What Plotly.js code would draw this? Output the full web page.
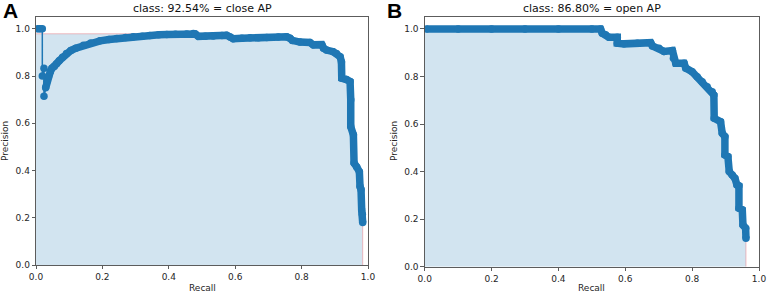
<!DOCTYPE html>
<html>
<head>
<meta charset="utf-8">
<script src="https://cdn.plot.ly/plotly-3.0.1.min.js"></script>
<style>
html,body{margin:0;padding:0;background:#fff;}
#chart{width:768px;height:295px;}
</style>
</head>
<body>
<div id="chart"></div>
<script>
// ---- Panel A: close ----
const recallA = [0.005,0.010,0.014,0.019,0.019,0.024,0.024,0.029,0.033,0.038,0.043,0.048,0.055,0.062,0.070,0.080,0.092,0.105,0.120,0.143,0.165,0.193,0.220,0.243,0.270,0.293,0.320,0.343,0.370,0.394,0.420,0.454,0.474,0.480,0.489,0.510,0.534,0.560,0.574,0.585,0.594,0.620,0.645,0.670,0.695,0.730,0.755,0.765,0.772,0.795,0.825,0.835,0.861,0.866,0.875,0.895,0.905,0.916,0.920,0.921,0.935,0.946,0.948,0.948,0.956,0.958,0.966,0.974,0.976,0.979,0.981,0.983,0.984];
const precisionA = [1.0,1.0,1.0,1.0,0.800,0.833,0.714,0.750,0.778,0.800,0.818,0.833,0.840,0.852,0.865,0.880,0.895,0.908,0.918,0.930,0.940,0.949,0.955,0.959,0.963,0.966,0.969,0.972,0.975,0.976,0.977,0.978,0.980,0.978,0.968,0.968,0.970,0.972,0.973,0.965,0.958,0.960,0.962,0.962,0.963,0.965,0.966,0.960,0.951,0.944,0.942,0.932,0.933,0.918,0.910,0.903,0.895,0.882,0.860,0.791,0.785,0.777,0.700,0.586,0.551,0.432,0.415,0.395,0.332,0.320,0.233,0.215,0.180];
const envRecallA = [0.0,0.474,0.480,0.755,0.765,0.772,0.795,0.825,0.835,0.861,0.866,0.875,0.895,0.905,0.916,0.920,0.921,0.935,0.946,0.948,0.956,0.958,0.966,0.974,0.976,0.979,0.981,0.983,0.984,0.984];
const envPrecisionA = [0.979,0.979,0.966,0.966,0.960,0.951,0.944,0.942,0.933,0.933,0.918,0.910,0.903,0.895,0.882,0.860,0.791,0.785,0.777,0.586,0.551,0.432,0.415,0.395,0.332,0.320,0.233,0.215,0.180,0.0];

// ---- Panel B: open ----
const recallB = [0.005,0.100,0.200,0.300,0.400,0.500,0.526,0.531,0.541,0.551,0.576,0.576,0.596,0.636,0.676,0.681,0.701,0.716,0.741,0.744,0.751,0.776,0.781,0.800,0.815,0.830,0.845,0.860,0.865,0.866,0.885,0.890,0.898,0.898,0.907,0.911,0.920,0.928,0.934,0.940,0.940,0.950,0.952,0.960,0.961];
const precisionB = [1.0,1.0,1.0,1.0,1.0,1.0,1.0,0.982,0.975,0.965,0.965,0.940,0.937,0.940,0.942,0.928,0.919,0.905,0.909,0.877,0.856,0.856,0.835,0.820,0.799,0.778,0.757,0.736,0.722,0.624,0.610,0.561,0.547,0.470,0.463,0.400,0.386,0.372,0.344,0.340,0.246,0.239,0.175,0.162,0.120];

const titles = ['class: 92.54% = close AP', 'class: 86.80% = open AP'];
const panelLabels = ['A', 'B'];
const tickVals = [0, 0.2, 0.4, 0.6, 0.8, 1.0];
const tickText = ['0.0', '0.2', '0.4', '0.6', '0.8', '1.0'];

const BLUE = '#1f77b4';
const FILL = 'rgba(31,119,180,0.2)';
const PINK = 'rgba(235,110,120,0.45)';

const envRecallB = [0].concat(recallB, [recallB[recallB.length - 1]]);
const envPrecisionB = [precisionB[0]].concat(precisionB, [0]);

function panelTraces(rec, prec, envR, envP, bandStart, xa, ya) {
  return [
    {x: envR, y: envP, xaxis: xa, yaxis: ya, type: 'scatter', mode: 'lines', fill: 'tozeroy',
     fillcolor: FILL, line: {width: 0, color: FILL}, hoverinfo: 'skip', showlegend: false},
    {x: envR, y: envP, xaxis: xa, yaxis: ya, type: 'scatter', mode: 'lines',
     line: {width: 1, color: PINK}, hoverinfo: 'skip', showlegend: false},
    {x: rec.slice(bandStart), y: prec.slice(bandStart), xaxis: xa, yaxis: ya, type: 'scatter', mode: 'lines',
     line: {width: 7.5, color: BLUE}, showlegend: false},
    {x: rec, y: prec, xaxis: xa, yaxis: ya, type: 'scatter', mode: 'lines+markers',
     line: {width: 1.5, color: BLUE}, marker: {size: 7.5, color: BLUE}, showlegend: false}
  ];
}

const data = [].concat(
  panelTraces(recallA, precisionA, envRecallA, envPrecisionA, 7, 'x', 'y'),
  panelTraces(recallB, precisionB, envRecallB, envPrecisionB, 0, 'x2', 'y2')
);

const W = 768, H = 295;
const axFont = {family: 'DejaVu Sans, sans-serif', size: 9, color: '#262626'};
function xAxis(domain) {
  return {domain: domain, range: [0, 1], tickvals: tickVals, ticktext: tickText,
    ticks: 'outside', ticklen: 3.5, tickwidth: 0.8, tickcolor: '#333',
    showline: true, mirror: true, linecolor: '#333', linewidth: 0.8,
    showgrid: false, zeroline: false, tickfont: axFont, fixedrange: true};
}
function yAxis(domain, anchor) {
  return {domain: domain, range: [0, 1.05], tickvals: tickVals, ticktext: tickText, anchor: anchor,
    ticks: 'outside', ticklen: 3.5, tickwidth: 0.8, tickcolor: '#333',
    showline: true, mirror: true, linecolor: '#333', linewidth: 0.8,
    showgrid: false, zeroline: false, tickfont: axFont, fixedrange: true};
}

const leftX = [36 / W, 368 / W];
const rightX = [424.7 / W, 759 / W];
const leftY = [1 - 265 / H, 1 - 17 / H];
const rightY = [1 - 266.7 / H, 1 - 17 / H];

const centers = [(leftX[0] + leftX[1]) / 2, (rightX[0] + rightX[1]) / 2];
const annotations = [];
titles.forEach((t, i) => {
  annotations.push({text: t, xref: 'paper', yref: 'paper', x: centers[i], y: 1 - 8 / H,
    xanchor: 'center', yanchor: 'middle', showarrow: false,
    font: {family: 'DejaVu Sans, sans-serif', size: 11, color: '#111'}});
  annotations.push({text: 'Recall', xref: 'paper', yref: 'paper', x: centers[i], y: 1 - 287.5 / H,
    xanchor: 'center', yanchor: 'middle', showarrow: false,
    font: {family: 'DejaVu Sans, sans-serif', size: 9, color: '#262626'}});
});
const precX = [5 / W, 394 / W];
precX.forEach((px) => {
  annotations.push({text: 'Precision', xref: 'paper', yref: 'paper', x: px, y: 1 - 141 / H,
    xanchor: 'center', yanchor: 'middle', textangle: -90, showarrow: false,
    font: {family: 'DejaVu Sans, sans-serif', size: 9, color: '#262626'}});
});
const labelX = [10.8 / W, 394 / W];
panelLabels.forEach((l, i) => {
  annotations.push({text: '<b>' + l + '</b>', xref: 'paper', yref: 'paper', x: labelX[i], y: 1 - 10.8 / H,
    xanchor: 'center', yanchor: 'middle', showarrow: false,
    font: {family: 'Liberation Sans, Arial, sans-serif', size: 21, color: '#000'}});
});

const layout = {
  width: W, height: H,
  margin: {l: 0, r: 0, t: 0, b: 0, pad: 0},
  paper_bgcolor: '#fff', plot_bgcolor: '#fff',
  showlegend: false,
  xaxis: Object.assign(xAxis(leftX), {anchor: 'y'}),
  yaxis: yAxis(leftY, 'x'),
  xaxis2: Object.assign(xAxis(rightX), {anchor: 'y2'}),
  yaxis2: yAxis(rightY, 'x2'),
  annotations: annotations
};

Plotly.newPlot('chart', data, layout, {displayModeBar: false, staticPlot: true});
</script>
</body>
</html>
